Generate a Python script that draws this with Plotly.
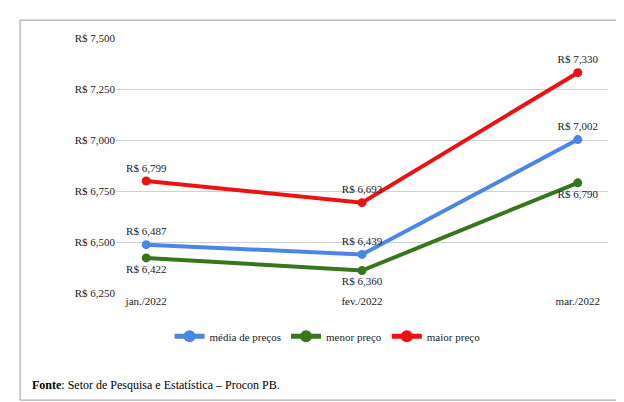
import plotly.graph_objects as go

meses = ["jan./2022", "fev./2022", "mar./2022"]
media = [6.487, 6.439, 7.002]
menor = [6.422, 6.360, 6.790]
maior = [6.799, 6.693, 7.330]

fonte = "Liberation Serif"


def rotulo(v):
    return "R$ " + f"{v:.3f}".replace(".", ",")


series = [
    ("média de preços", media, "#4a86e8", ["top center", "top center", "top center"]),
    ("menor preço", menor, "#38761d", ["bottom center", "bottom center", "bottom center"]),
    ("maior preço", maior, "#ee1111", ["top center", "top center", "top center"]),
]

fig = go.Figure()
for nome, vals, cor, pos in series:
    fig.add_trace(go.Scatter(
        x=meses, y=vals, name=nome, mode="lines+markers+text",
        line=dict(color=cor, width=4), marker=dict(size=9, color=cor),
        text=[rotulo(v) for v in vals], textposition=pos,
        textfont=dict(family=fonte, size=11, color="#222"),
    ))

fig.update_layout(
    width=624, height=402,
    margin=dict(l=108, r=24, t=30, b=117),
    plot_bgcolor="white", paper_bgcolor="white",
    font=dict(family=fonte, size=11, color="#222"),
    showlegend=True,
    legend=dict(orientation="h", x=0.43, xanchor="center", y=-0.17, yanchor="middle",
                font=dict(size=11), itemsizing="constant"),
    xaxis=dict(showgrid=False, showline=False, tickfont=dict(size=11)),
    yaxis=dict(range=[6.25, 7.5], dtick=0.25, tickprefix="R$ ", tickformat=",.3f",
               gridcolor="#d0d0d0", zeroline=False,
               tickfont=dict(size=11, color="#222")),
    separators=",.",
    shapes=[dict(type="rect", xref="paper", yref="paper",
                 x0=-0.195, x1=1.024, y0=-0.42, y1=1.07,
                 line=dict(color="#999", width=1))],
    annotations=[dict(xref="paper", yref="paper", x=-0.175, y=-0.36,
                      xanchor="left", yanchor="middle", showarrow=False,
                      text="<b>Fonte</b>: Setor de Pesquisa e Estatística – Procon PB.",
                      font=dict(family=fonte, size=12, color="#000"))],
)

fig.write_html("out.html")
